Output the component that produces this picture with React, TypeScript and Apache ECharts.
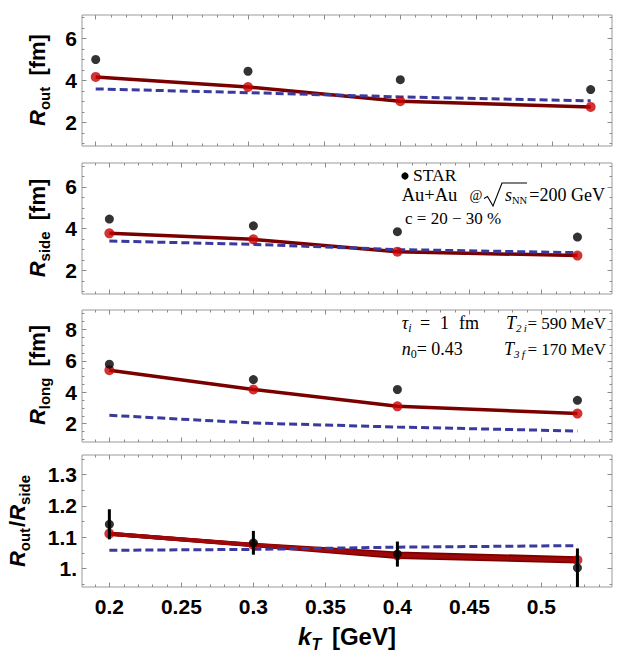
import React, { useEffect, useRef } from 'react';
import * as echarts from 'echarts';

// ---------------- data ----------------
const kT = [0.2, 0.3, 0.4, 0.525];

const routStar = [5.0, 4.44, 4.04, 3.57];
const routModel = [4.17, 3.69, 3.01, 2.74];
const routHydro = [3.6, 3.42, 3.22, 3.03];

const rsideStar = [4.46, 4.14, 3.86, 3.6];
const rsideModel = [3.78, 3.49, 2.9, 2.71];
const rsideHydro = [3.41, 3.25, 3.0, 2.85];

const rlongStar = [5.78, 4.8, 4.17, 3.48];
const rlongModel = [5.4, 4.17, 3.1, 2.64];
const rlongHydro = [2.53, 2.04, 1.78, 1.53];

const ratioStar = [1.141, 1.082, 1.046, 1.002];
const ratioStarErr = [0.048, 0.038, 0.04, 0.062];
const ratioModel = [1.111, 1.075, 1.042, 1.027];
const ratioModelUpper = [1.111, 1.076, 1.048, 1.033];
const ratioModelLower = [1.111, 1.074, 1.037, 1.022];
const ratioHydro = [1.058, 1.061, 1.068, 1.073];

// tick labels
const xTickLabels = [0.2, 0.25, 0.3, 0.35, 0.4, 0.45, 0.5];
const yTicksR = [2, 4, 6];
const yTicksLong = [2, 4, 6, 8];
const yTicksRatio = [1, 1.1, 1.2, 1.3];

// ---------------- helpers ----------------
const steps = (a: number, b: number, s: number) => {
  const out: number[] = [];
  const n = Math.round((b - a) / s);
  for (let i = 0; i <= n; i++) out.push(Math.round((a + i * s) * 1000) / 1000);
  return out;
};
const xMinor = steps(0.18, 0.55, 0.01);

const SANS = "'Liberation Sans', Arial, sans-serif";
const SERIF = "'Liberation Serif', 'Times New Roman', serif";
const FRAME = '#9a9a9a';
const TICK = '#8a8a8a';

let mctx: CanvasRenderingContext2D | null = null;
const textWidth = (t: string, font: string) => {
  if (!mctx) mctx = document.createElement('canvas').getContext('2d');
  if (!mctx) return t.length * 8;
  mctx.font = font;
  return mctx.measureText(t).width;
};

type Piece = { t: string; size: number; it?: boolean; b?: boolean; dy?: number; gap?: number; x?: number; endAt?: number };
const fontOf = (p: Piece, fam: string) => `${p.it ? 'italic ' : ''}${p.b ? 'bold ' : ''}${p.size}px ${fam}`;
const runWidth = (ps: Piece[], fam: string) =>
  ps.reduce((s, p) => s + (p.gap || 0) + textWidth(p.t, fontOf(p, fam)), 0);

function run(ps: Piece[], fam: string, x0: number, baseline: number, color = '#000') {
  let x = x0;
  const out: any[] = [];
  for (const p of ps) {
    const f = fontOf(p, fam);
    const w = textWidth(p.t, f);
    if (p.x !== undefined) x = p.x;
    if (p.endAt !== undefined) x = p.endAt - w;
    x += p.gap || 0;
    out.push({
      type: 'text',
      x,
      y: baseline + (p.dy || 0) - 0.345 * p.size,
      silent: true,
      style: { text: p.t, font: f, fill: color, textAlign: 'left', textVerticalAlign: 'middle', align: 'left', verticalAlign: 'middle' },
    });
    x += w;
  }
  return out;
}

function rotatedName(ps: Piece[], baselineX: number, centerY: number) {
  const w = runWidth(ps, SANS);
  return {
    type: 'group',
    x: baselineX,
    y: centerY,
    rotation: Math.PI / 2,
    children: run(ps, SANS, -w / 2, 0),
  };
}

// ---------------- layout ----------------
const LEFT = 82;
const WIDTH = 530;
const GRIDS = [
  { top: 15, height: 131, xmin: 0.191, xmax: 0.539, ymin: 0.88, ymax: 7.12, yMajor: yTicksR, yMinor: steps(1, 7, 0.5) },
  { top: 163, height: 131, xmin: 0.181, xmax: 0.549, ymin: 0.87, ymax: 7.15, yMajor: yTicksR, yMinor: steps(1, 7, 0.5) },
  { top: 310, height: 132, xmin: 0.181, xmax: 0.549, ymin: 0.83, ymax: 9.23, yMajor: yTicksLong, yMinor: steps(1, 9, 0.5) },
  { top: 455, height: 132, xmin: 0.181, xmax: 0.549, ymin: 0.941, ymax: 1.362, yMajor: yTicksRatio, yMinor: steps(0.95, 1.35, 0.05) },
];

const pairs = (ys: number[]) => kT.map((k, i) => [k, ys[i]]);

function buildOption() {
  const xAxis: any[] = [];
  const yAxis: any[] = [];
  const LABEL = { color: '#000', fontSize: 21, fontWeight: 'bold', fontFamily: SANS };
  GRIDS.forEach((g, gi) => {
    const last = gi === GRIDS.length - 1;
    const mk = (pos: string, ticks: number[], len: number, labels: boolean) => ({
      gridIndex: gi,
      type: 'value',
      min: g.xmin,
      max: g.xmax,
      position: pos,
      axisLine: { show: false },
      splitLine: { show: false },
      axisTick: { show: true, inside: true, length: len, customValues: ticks, lineStyle: { color: TICK, width: 1 } },
      axisLabel: labels
        ? { show: true, customValues: xTickLabels, margin: 9, ...LABEL, formatter: (v: number) => String(v) }
        : { show: false },
    });
    xAxis.push(mk('bottom', xTickLabels, 4.5, last));
    xAxis.push(mk('top', xTickLabels, 4.5, false));
    xAxis.push(mk('bottom', xMinor, 2.5, false));
    xAxis.push(mk('top', xMinor, 2.5, false));

    const mky = (pos: string, ticks: number[], len: number, labels: boolean) => ({
      gridIndex: gi,
      type: 'value',
      min: g.ymin,
      max: g.ymax,
      position: pos,
      axisLine: { show: false },
      splitLine: { show: false },
      axisTick: { show: true, inside: true, length: len, customValues: ticks, lineStyle: { color: TICK, width: 1 } },
      axisLabel: labels
        ? {
            show: true,
            customValues: g.yMajor,
            margin: 5,
            ...LABEL,
            formatter: (v: number) => (gi === 3 && v === 1 ? '1.' : String(v)),
          }
        : { show: false },
    });
    yAxis.push(mky('left', g.yMajor, 4.5, true));
    yAxis.push(mky('right', g.yMajor, 4.5, false));
    yAxis.push(mky('left', g.yMinor, 2.5, false));
    yAxis.push(mky('right', g.yMinor, 2.5, false));
  });

  const panels = [
    { star: routStar, model: [routModel], hydro: routHydro, points: routModel },
    { star: rsideStar, model: [rsideModel], hydro: rsideHydro, points: rsideModel },
    { star: rlongStar, model: [rlongModel], hydro: rlongHydro, points: rlongModel },
    { star: ratioStar, model: [ratioModelLower, ratioModelUpper, ratioModel], hydro: ratioHydro, points: ratioModel },
  ];
  const modelColors = ['#7a0000', '#7a0000', '#9e0808'];

  const series: any[] = [];
  panels.forEach((p, gi) => {
    const ax = { xAxisIndex: gi * 4, yAxisIndex: gi * 4 };
    p.model.forEach((m, mi) => {
      series.push({
        type: 'line',
        ...ax,
        data: pairs(m),
        showSymbol: false,
        symbol: 'none',
        z: 2,
        lineStyle: { color: modelColors[mi], width: gi === 3 ? 4 : 3.5 },
        silent: true,
      });
    });
    series.push({
      type: 'line',
      ...ax,
      data: pairs(p.hydro),
      showSymbol: false,
      symbol: 'none',
      z: 3,
      lineStyle: { color: '#3a3a9e', width: 3, type: [8, 4] },
      silent: true,
    });
    series.push({
      type: 'scatter',
      ...ax,
      data: pairs(p.points),
      symbolSize: 10,
      z: 4,
      itemStyle: { color: '#c80000' },
      silent: true,
    });
    if (gi === 3) {
      series.push({
        type: 'custom',
        ...ax,
        clip: true,
        z: 5,
        data: kT.map((k, i) => [k, ratioStar[i], ratioStarErr[i]]),
        encode: { x: 0, y: 1 },
        renderItem: (_params: any, api: any) => {
          const x = api.value(0);
          const y = api.value(1);
          const e = api.value(2);
          const a = api.coord([x, y + e]);
          const b = api.coord([x, y - e]);
          return {
            type: 'line',
            shape: { x1: a[0], y1: a[1], x2: b[0], y2: b[1] },
            style: { stroke: '#000', lineWidth: 3 },
          };
        },
        silent: true,
      });
    }
    series.push({
      type: 'scatter',
      ...ax,
      data: pairs(p.star),
      symbolSize: 9,
      z: 6,
      itemStyle: { color: '#000' },
      silent: true,
    });
  });

  // ---------- texts ----------
  const N = 22;
  const S = 15;
  const elements: any[] = [];
  elements.push(
    rotatedName([{ t: 'R', size: N, it: true, b: true }, { t: 'out', size: S, b: true, dy: 5 }, { t: ' [fm]', size: N, b: true, gap: 5 }], 45, 80)
  );
  elements.push(
    rotatedName([{ t: 'R', size: N, it: true, b: true }, { t: 'side', size: S, b: true, dy: 5 }, { t: ' [fm]', size: N, b: true, gap: 5 }], 45, 228)
  );
  elements.push(
    rotatedName([{ t: 'R', size: N, it: true, b: true }, { t: 'long', size: S, b: true, dy: 5 }, { t: ' [fm]', size: N, b: true, gap: 5 }], 45, 375)
  );
  elements.push(
    rotatedName(
      [
        { t: 'R', size: N, it: true, b: true },
        { t: 'out', size: S, b: true, dy: 5 },
        { t: '/', size: N, b: true, gap: 1 },
        { t: 'R', size: N, it: true, b: true },
        { t: 'side', size: S, b: true, dy: 5 },
      ],
      25,
      521
    )
  );
  // x axis name
  const xName: Piece[] = [{ t: 'k', size: 24, it: true, b: true }, { t: 'T', size: 16, it: true, b: true, dy: 5 }, { t: ' [GeV]', size: 24, b: true, gap: 4 }];
  elements.push(...run(xName, SANS, 347 - runWidth(xName, SANS) / 2, 645));

  // panel 2 annotation
  const A = 18;
  elements.push({ type: 'circle', shape: { cx: 405, cy: 176, r: 3.6 }, style: { fill: '#000' }, silent: true });
  elements.push(...run([{ t: 'STAR', size: 17.5 }], SERIF, 413, 181.5));
  elements.push(...run([{ t: 'Au+Au', size: 18.5 }], SERIF, 401.7, 201.5));
  elements.push(...run([{ t: '@', size: 14 }], SERIF, 469.5, 200.5));
  elements.push({
    type: 'polyline',
    shape: { points: [[484, 198.5], [487.5, 196.5], [493, 206], [502, 183], [527, 183]] },
    style: { stroke: '#000', lineWidth: 1.1, fill: 'none' },
    silent: true,
  });
  elements.push(...run([{ t: 's', size: A, it: true }], SERIF, 505, 201.5));
  elements.push(...run([{ t: 'NN', size: 10.5 }], SERIF, 512, 204));
  elements.push(...run([{ t: '=200 GeV', size: A, endAt: 605 }], SERIF, 0, 201.5));
  elements.push(...run([{ t: 'c = 20 \u2212 30 %', size: 17 }], SERIF, 405, 224.5));

  // panel 3 annotation
  const B = 17;
  elements.push(
    ...run(
      [
        { t: '\u03c4', size: A, it: true },
        { t: 'i', size: 12, it: true, dy: 3 },
        { t: '=', size: A, x: 420 },
        { t: '1', size: A, x: 440 },
        { t: 'fm', size: A, x: 459 },
      ],
      SERIF,
      401.7,
      329
    )
  );
  elements.push(...run([{ t: 'T', size: A, it: true }, { t: '2\u2009i', size: 11, it: true, dy: 3 }], SERIF, 506, 329));
  elements.push(...run([{ t: '= 590 MeV', size: B, endAt: 606 }], SERIF, 0, 329));
  elements.push(...run([{ t: 'n', size: A, it: true }, { t: '0', size: 12, dy: 3 }, { t: '= 0.43', size: A }], SERIF, 401.7, 355));
  elements.push(...run([{ t: 'T', size: A, it: true }, { t: '3\u2009f', size: 11, it: true, dy: 3 }], SERIF, 504, 355));
  elements.push(...run([{ t: '= 170 MeV', size: B, endAt: 606 }], SERIF, 0, 355));

  return {
    animation: false,
    backgroundColor: '#fff',
    grid: GRIDS.map((g) => ({
      left: LEFT,
      width: WIDTH,
      top: g.top,
      height: g.height,
      show: true,
      borderColor: FRAME,
      borderWidth: 1,
      backgroundColor: 'transparent',
      containLabel: false,
      outerBoundsMode: 'none',
    })),
    xAxis,
    yAxis,
    series,
    graphic: { elements },
  };
}

export default function App() {
  const ref = useRef<HTMLDivElement>(null);
  useEffect(() => {
    if (!ref.current) return;
    const chart = echarts.init(ref.current, undefined, { renderer: 'svg' });
    chart.setOption(buildOption() as any);
    return () => chart.dispose();
  }, []);
  return <div ref={ref} style={{ position: 'absolute', left: 0, top: 0, width: 623, height: 652 }} />;
}
